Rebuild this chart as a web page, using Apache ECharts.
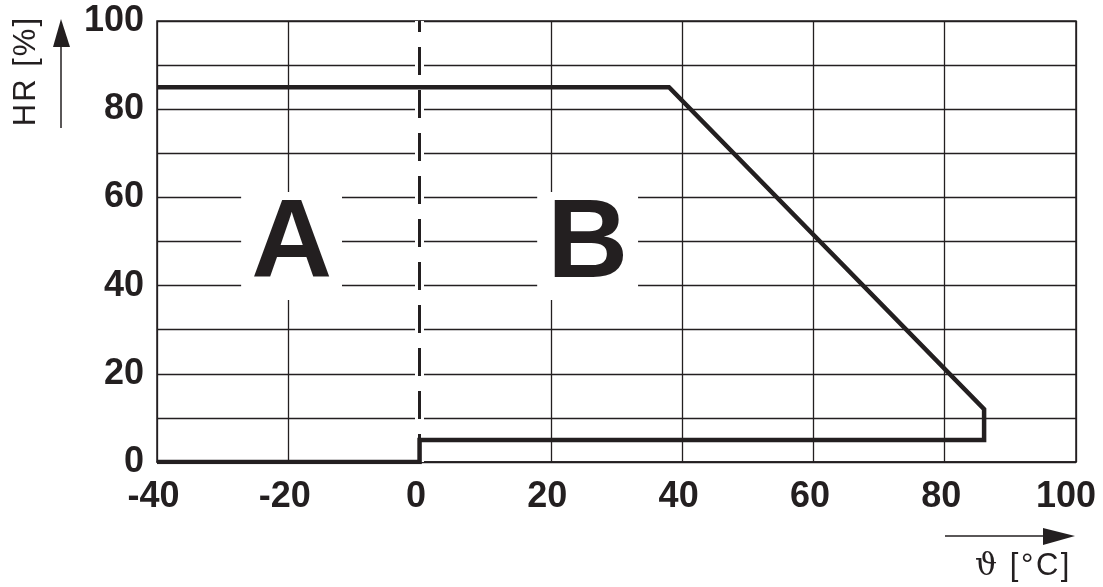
<!DOCTYPE html>
<html><head><meta charset="utf-8">
<script src="https://cdn.jsdelivr.net/npm/echarts@6/dist/echarts.min.js"></script>
<style>html,body{margin:0;padding:0;background:#fff}#c{width:1103px;height:587px}</style>
</head><body><div id="c"></div>
<script>
const boundaryX = [-40, 0, 0, 86, 86, 38, -40];
const boundaryY = [0, 0, 5, 5, 12, 85, 85];
const regionNames = ['A', 'B'];
const regionX = [-19.5, 25.6];
const regionY = [49, 49];
const dividerX = 0;
const xTicks = [-40, -20, 0, 20, 40, 60, 80, 100];
const yTicks = [0, 20, 40, 60, 80, 100];

const ink = '#231f20';
const sans = '"Liberation Sans", Arial, Helvetica, sans-serif';
const chart = echarts.init(document.getElementById('c'));
const lineData = boundaryX.map((x, i) => [x, boundaryY[i]]);
const labelData = regionNames.map((n, i) => ({ name: n, value: [regionX[i], regionY[i]] }));
const tickFont = { fontFamily: sans, fontWeight: 'bold', fontSize: 36, color: ink };

chart.setOption({
  animation: false,
  backgroundColor: '#fff',
  grid: { left: 157, right: 27, top: 21, bottom: 125, outerBoundsMode: 'none', containLabel: false,
    show: true, borderColor: ink, borderWidth: 1.5, backgroundColor: 'transparent' },
  xAxis: {
    type: 'value', min: -40, max: 100, interval: 20,
    axisLine: { show: true, lineStyle: { color: ink, width: 1.5 } },
    axisTick: { show: false },
    splitLine: { show: true, lineStyle: { color: ink, width: 1.3 } },
    axisLabel: { ...tickFont, margin: 17, hideOverlap: false,
      formatter: v => !xTicks.includes(v) ? '' : (v === 100 ? '{e|' + v + '}' : '{n|' + v + '}'),
      rich: { n: { ...tickFont, padding: [0, 7, 0, 0] }, e: { ...tickFont, padding: [0, 20, 0, 0] } } }
  },
  yAxis: {
    type: 'value', min: 0, max: 100, interval: 10,
    axisLine: { show: true, lineStyle: { color: ink, width: 1.5 } },
    axisTick: { show: false },
    splitLine: { show: true, lineStyle: { color: ink, width: 1.3 } },
    axisLabel: { ...tickFont, margin: 13,
      formatter: v => yTicks.includes(v) ? String(v) : '' }
  },
  series: [
    {
      type: 'line', data: [], z: 1, silent: true,
      markLine: {
        z: 1, symbol: 'none', silent: true, label: { show: false },
        data: [
          [{ coord: [dividerX, 0], lineStyle: { color: '#fff', width: 9, type: 'solid' } }, { coord: [dividerX, 100] }],
          [{ coord: [dividerX, 0], lineStyle: { color: ink, width: 3, type: [28, 15] } }, { coord: [dividerX, 100] }]
        ]
      }
    },
    {
      type: 'line', data: lineData, z: 6, symbol: 'none', silent: true,
      lineStyle: { color: ink, width: 4.5, join: 'miter' }
    },
    {
      type: 'scatter', data: labelData, z: 7, symbolSize: 0, silent: true,
      itemStyle: { opacity: 1 },
      label: {
        show: true, position: 'inside', formatter: p => p.name,
        color: ink, fontFamily: sans, fontWeight: 'bold', fontSize: 112,
        lineHeight: 108, backgroundColor: '#fff', padding: [0, 10]
      }
    }
  ],
  graphic: [
    { type: 'text', left: 11, top: 18, rotation: Math.PI / 2, z: 10,
      style: { text: '{a|H}{a|R}{a| }{a|[}{a|%}{a|]}', fill: ink,
        rich: { a: { font: '31px "Liberation Sans", Arial, sans-serif', padding: [0, 1], fill: ink } } } },
    { type: 'line', shape: { x1: 61, y1: 128, x2: 61, y2: 44 }, style: { stroke: ink, lineWidth: 1.5 }, z: 10 },
    { type: 'polygon', shape: { points: [[61, 19], [53, 47], [70, 47]] }, style: { fill: ink }, z: 10 },
    { type: 'line', shape: { x1: 945, y1: 536, x2: 1046, y2: 536 }, style: { stroke: ink, lineWidth: 1.5 }, z: 10 },
    { type: 'polygon', shape: { points: [[1075, 536], [1043, 528], [1043, 545]] }, style: { fill: ink }, z: 10 },
    { type: 'text', left: 975, top: 551, z: 10,
      style: { text: '{t|ϑ}{r| }{r|[}{r|°}{r|C}{r|]}', fill: ink,
        rich: { t: { font: '31px "DejaVu Serif", "Liberation Serif", serif', fill: ink, padding: [0, 0] },
                r: { font: '31px "Liberation Sans", Arial, sans-serif', fill: ink, padding: [0, 1.3] } } } }
  ]
});
</script></body></html>
